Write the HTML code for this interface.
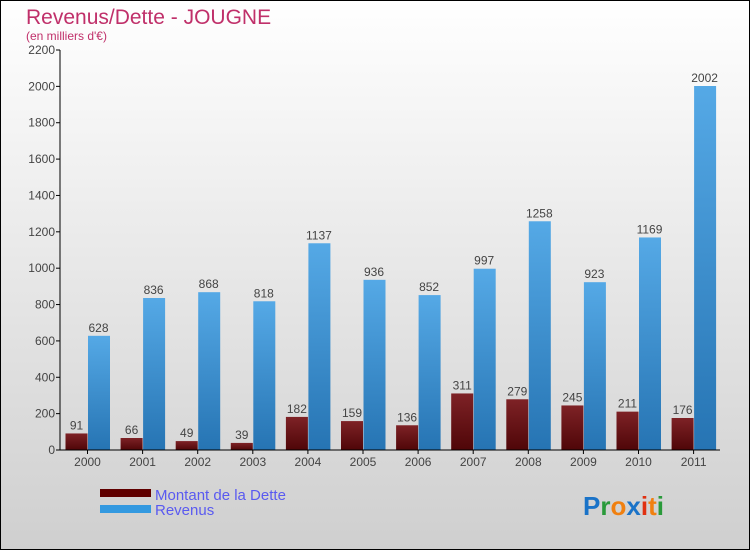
<!DOCTYPE html>
<html><head><meta charset="utf-8"><style>
body{margin:0}
svg{display:block;font-family:"Liberation Sans",sans-serif}
</style></head><body>
<svg width="750" height="550" xmlns="http://www.w3.org/2000/svg">
<defs>
<linearGradient id="bg" x1="0" y1="0" x2="0" y2="1"><stop offset="0" stop-color="#ffffff"/><stop offset="1" stop-color="#cfcfcf"/></linearGradient>
<linearGradient id="gd" x1="0" y1="0" x2="0" y2="1"><stop offset="0" stop-color="#7e2226"/><stop offset="1" stop-color="#4f0608"/></linearGradient>
<linearGradient id="gr" x1="0" y1="0" x2="0" y2="1"><stop offset="0" stop-color="#55a9e6"/><stop offset="1" stop-color="#2674b3"/></linearGradient>
</defs>
<rect x="0.5" y="0.5" width="749" height="549" fill="url(#bg)" stroke="#000"/>
<text x="26" y="24" font-size="21" fill="#c0306a">Revenus/Dette - JOUGNE</text>
<text x="26" y="40" font-size="12" fill="#c0306a">(en milliers d'€)</text>
<g id="plot"></g>
<g>
<rect x="100" y="489" width="51" height="8" fill="#600000"/>
<text x="155" y="500" font-size="15" fill="#5a5af0">Montant de la Dette</text>
<rect x="100" y="505" width="51" height="8" fill="#3399e0"/>
<text x="155" y="515" font-size="15" fill="#5a5af0">Revenus</text>
</g>
<g font-size="26" font-weight="bold">
<text x="583" y="515"><tspan fill="#1a73c8">P</tspan><tspan fill="#2a9a3a">r</tspan><tspan fill="#f08010">o</tspan><tspan fill="#1a73c8">x</tspan><tspan fill="#e03010">i</tspan><tspan fill="#f08010">t</tspan><tspan fill="#2a9a3a">i</tspan></text>
</g>
</svg>
<script>
const years=["2000","2001","2002","2003","2004","2005","2006","2007","2008","2009","2010","2011"];
const dette=[91,66,49,39,182,159,136,311,279,245,211,176];
const revenus=[628,836,868,818,1137,936,852,997,1258,923,1169,2002];
const yTicks=[0,200,400,600,800,1000,1200,1400,1600,1800,2000,2200];
const NS="http://www.w3.org/2000/svg";
const g=document.getElementById('plot');
const y0=450,yTop=50,yMax=2200,x0=87.5,step=55.1,bw=22;
const ys=v=>y0-(v/yMax)*(y0-yTop);
const xs=i=>x0+i*step;
function mk(t,a){const e=document.createElementNS(NS,t);for(const k in a)e.setAttribute(k,a[k]);g.appendChild(e);return e;}
yTicks.forEach(v=>{
 const l=mk('line',{x1:56,x2:60,y1:ys(v),y2:ys(v),stroke:'#000'});
 
 
 const t=mk('text',{x:55,y:ys(v)+4,'font-size':12,'text-anchor':'end',fill:'#444'});
 t.textContent=v;
 
 
});
years.forEach((yr,i)=>{
 const c=xs(i);
 const d=mk('rect',{x:c-bw,y:ys(dette[i]),width:bw,height:y0-ys(dette[i]),fill:'url(#gd)'});
 
 
 const r=mk('rect',{x:c+0.5,y:ys(revenus[i]),width:bw,height:y0-ys(revenus[i]),fill:'url(#gr)'});
 
 
 const dl=mk('text',{x:c-bw/2,y:ys(dette[i])-4,'font-size':12,'text-anchor':'middle',fill:'#444'});
 dl.textContent=dette[i];
 
 
 const rl=mk('text',{x:c+bw/2,y:ys(revenus[i])-4,'font-size':12,'text-anchor':'middle',fill:'#444'});
 rl.textContent=revenus[i];
 
 
 const tk=mk('line',{x1:c,x2:c,y1:y0,y2:y0+4,stroke:'#000'});
 
 
 const xl=mk('text',{x:c,y:y0+16,'font-size':12,'text-anchor':'middle',fill:'#444'});
 xl.textContent=yr;
 
 
});
const ya=mk('line',{x1:60,x2:60,y1:yTop,y2:y0,stroke:'#000'});


const xa=mk('line',{x1:60,x2:720,y1:y0,y2:y0,stroke:'#000'});


</script>
</body></html>
